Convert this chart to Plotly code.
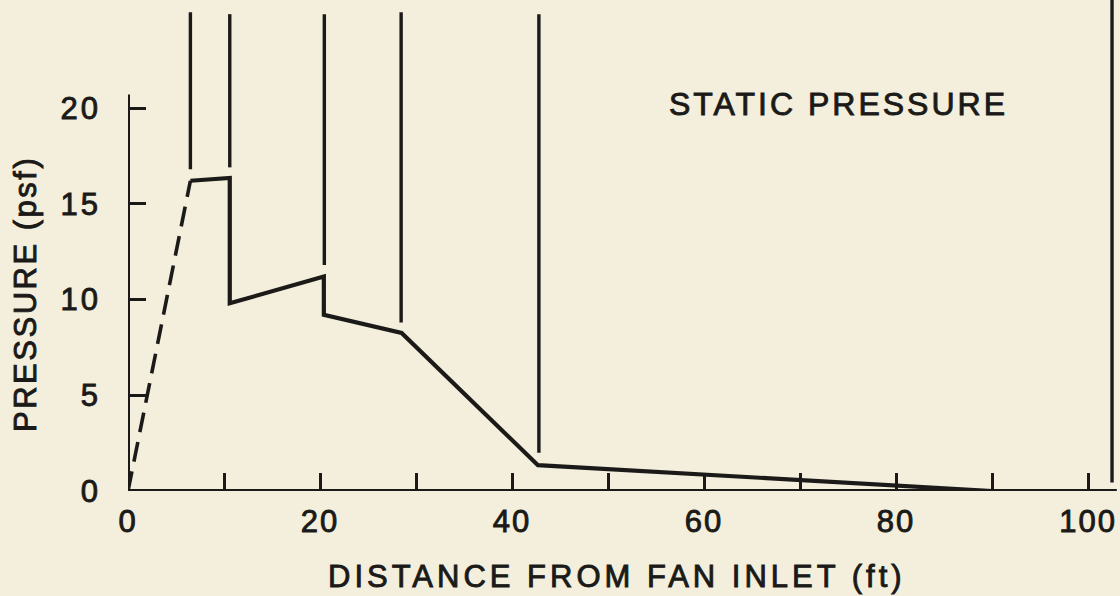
import plotly.graph_objects as go

# ---- data (ft, psf) ----
dash_x = [0.0, 6.5]
dash_y = [0.0, 16.2]

solid_x = [6.5, 10.6, 10.6, 20.4, 20.4, 28.5, 42.7, 90.0, 100.0]
solid_y = [16.2, 16.35, 9.8, 11.2, 9.2, 8.25, 1.35, 0.0, 0.0]

# vertical station markers: position, lower end, upper end
station_x = [6.5, 10.6, 20.45, 28.45, 42.8, 102.5]
station_lo = [16.8, 16.9, 11.8, 8.8, 2.0, 0.45]
station_hi = [25.0, 24.9, 24.9, 25.0, 24.9, 25.7]

x_tick_vals = [0, 10, 20, 30, 40, 50, 60, 70, 80, 90, 100]
x_tick_text = ["0", "", "20", "", "40", "", "60", "", "80", "", "100"]
y_tick_vals = [0, 5, 10, 15, 20]
y_tick_text = ["0", "5", "10", "15", "20"]

x_title = "DISTANCE FROM FAN INLET (ft)"
y_title = "PRESSURE (psf)"
label_text = "STATIC PRESSURE"

INK = "#1b1a18"
BG = "#f3efdc"
FONT = "Liberation Sans, Arial, Helvetica, sans-serif"


def spaced(t, px):
    return (f'<span style="letter-spacing:{px}px;stroke:{INK};'
            f'stroke-width:0.9px">{t}</span>')


fig = go.Figure()

# station lines
vx, vy = [], []
for x, lo, hi in zip(station_x, station_lo, station_hi):
    vx += [x, x, None]
    vy += [lo, hi, None]
fig.add_trace(go.Scatter(x=vx, y=vy, mode="lines",
                         line=dict(color=INK, width=3.4), hoverinfo="skip",
                         showlegend=False, cliponaxis=False))

fig.add_trace(go.Scatter(x=dash_x, y=dash_y, mode="lines",
                         line=dict(color=INK, width=3.6, dash="20px,10px"),
                         showlegend=False))
fig.add_trace(go.Scatter(x=solid_x, y=solid_y, mode="lines",
                         line=dict(color=INK, width=4.2),
                         showlegend=False))

# axis lines drawn from axis data extents
fig.add_trace(go.Scatter(x=[0, 103.0], y=[0, 0], mode="lines",
                         line=dict(color=INK, width=4), showlegend=False,
                         cliponaxis=False, hoverinfo="skip"))
fig.add_trace(go.Scatter(x=[0, 0], y=[0, 20.7], mode="lines",
                         line=dict(color=INK, width=4), showlegend=False,
                         cliponaxis=False, hoverinfo="skip"))

fig.add_annotation(x=74.0, y=20.2, xref="x", yref="y", text=spaced(label_text, 3),
                   showarrow=False, font=dict(family=FONT, size=32, color=INK),
                   xanchor="center", yanchor="middle")
fig.add_annotation(x=0.493, y=-0.175, xref="paper", yref="paper",
                   text=spaced(x_title, 4),
                   showarrow=False, font=dict(family=FONT, size=31, color=INK),
                   xanchor="center", yanchor="middle")
fig.add_annotation(x=-0.104, y=0.401, xref="paper", yref="paper",
                   text=spaced(y_title, 2.5),
                   showarrow=False, textangle=-90,
                   font=dict(family=FONT, size=31, color=INK),
                   xanchor="center", yanchor="middle")

fig.update_xaxes(range=[0, 103.33], tickvals=x_tick_vals,
                 ticktext=[spaced(t, 2) for t in x_tick_text],
                 ticks="inside", ticklen=18, tickwidth=3, tickcolor=INK,
                 showgrid=False, zeroline=False, showline=False,
                 tickfont=dict(family=FONT, size=31, color=INK),
                 ticklabelstandoff=9)
fig.update_yaxes(range=[0, 25.64], tickvals=y_tick_vals,
                 ticktext=[spaced(t, 3) for t in y_tick_text],
                 ticks="inside", ticklen=18, tickwidth=3, tickcolor=INK,
                 showgrid=False, zeroline=False, showline=False,
                 tickfont=dict(family=FONT, size=31, color=INK),
                 ticklabelstandoff=26)

fig.update_layout(width=1120, height=596,
                  margin=dict(l=128, r=0, t=0, b=105),
                  paper_bgcolor=BG, plot_bgcolor=BG,
                  showlegend=False)

fig.write_html("out.html")
